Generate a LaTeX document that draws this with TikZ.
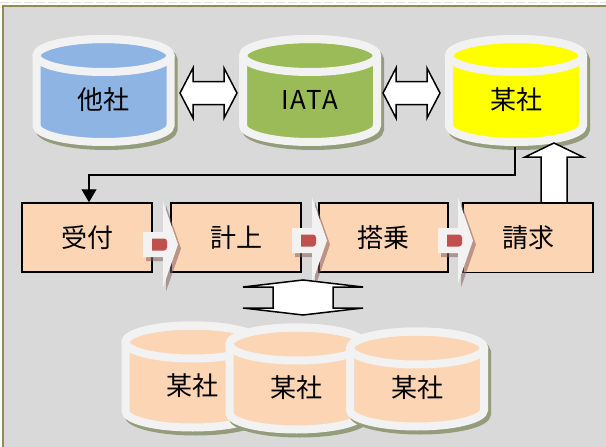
\documentclass[tikz,border=0pt]{standalone}
\usepackage{fontspec}
\setmainfont{Noto Sans CJK JP}
\usetikzlibrary{arrows.meta}
\definecolor{bg}{HTML}{D9D9D9}
\definecolor{frameol}{HTML}{948A54}
\definecolor{ring}{HTML}{F2F2F2}
\definecolor{cshadow}{RGB}{148,156,124}
\definecolor{cblue}{HTML}{8DB4E2}
\definecolor{cgreen}{HTML}{9BBB59}
\definecolor{cyellow}{HTML}{FFFF00}
\definecolor{peach}{HTML}{FCD5B5}
\definecolor{mred}{HTML}{C0504D}
\definecolor{chshadow}{RGB}{135,95,95}
\tikzset{
  lbl/.style={font=\fontsize{26}{29}\selectfont, inner sep=0pt},
  procbox/.style={draw=black, line width=1.5pt, fill=peach, minimum width=130pt, minimum height=69pt, inner sep=0pt, font=\fontsize{26}{29}\selectfont},
  blockarrow/.style={draw=black, fill=white, line width=1.5pt, line join=miter},
  conn/.style={draw=black, line width=1.2pt, -{Triangle[width=15pt,length=13pt]}},
}
% name, cx, yt, yb, fill colour, text
\newcommand\dbcyl[6]{%
  \fill[cshadow, draw=cshadow, line width=8pt, shift={(3,4)}]
    ({#2-67},#3) -- ({#2-67},#4) arc[start angle=180,end angle=0,x radius=67,y radius=16.5]
    -- ({#2+67},#3) arc[start angle=0,end angle=-180,x radius=67,y radius=16.5] -- cycle;
  \filldraw[fill=#5, draw=ring, line width=8pt]
    ({#2-67},#3) -- ({#2-67},#4) arc[start angle=180,end angle=0,x radius=67,y radius=16.5]
    -- ({#2+67},#3) arc[start angle=0,end angle=-180,x radius=67,y radius=16.5] -- cycle;
  \draw[ring, line width=8pt] (#2,#3) ellipse[x radius=67, y radius=16.5];
  \node[lbl] (#1) at (#2,{(#3+#4)/2+9}) {#6};
}
% x0, centre y
\newcommand\chev[2]{%
  \fill[chshadow, opacity=.55, shift={(3,4)}]
    (#1,{#2-12.5}) -- ({#1+20},{#2-12.5}) -- ({#1+20},{#2-43}) -- ({#1+35},#2)
    -- ({#1+20},{#2+43}) -- ({#1+20},{#2+12.5}) -- (#1,{#2+12.5}) -- cycle;
  \fill[ring]
    (#1,{#2-12.5}) -- ({#1+20},{#2-12.5}) -- ({#1+20},{#2-43}) -- ({#1+35},#2)
    -- ({#1+20},{#2+43}) -- ({#1+20},{#2+12.5}) -- (#1,{#2+12.5}) -- cycle;
  \fill[mred] ({#1+9},{#2-6}) [rounded corners=3pt] -- ({#1+24},{#2-6}) -- ({#1+24},{#2+6})
    [sharp corners] -- ({#1+9},{#2+6}) -- cycle;
}
\begin{document}
\begin{tikzpicture}[x=1pt,y=-1pt]
\useasboundingbox (0,0) rectangle (606,447);
% background
\fill[white] (0,0) rectangle (606,447);
\draw[black!12, line width=1pt, dash pattern=on 9pt off 3pt] (0,2) -- (606,2);
\fill[frameol] (1.5,4.5) rectangle (606,447);
\fill[bg] (3.5,7) rectangle (606,447);

% top cylinders
\dbcyl{other}{103.5}{55.5}{125.5}{cblue}{他社}
\dbcyl{iata}{310}{55.5}{125.5}{cgreen}{\addfontfeature{LetterSpace=6}IATA}
\dbcyl{self}{516}{55.5}{125.5}{cyellow}{某社}

% double arrows between the top cylinders
\draw[blockarrow] (180,93) -- (193,68) -- (193,81.5) -- (224,81.5) -- (224,68) -- (237,93)
  -- (224,118) -- (224,104.5) -- (193,104.5) -- (193,118) -- cycle;
\draw[blockarrow] (383,93) -- (396,68) -- (396,81.5) -- (427,81.5) -- (427,68) -- (440,93)
  -- (427,118) -- (427,104.5) -- (396,104.5) -- (396,118) -- cycle;

% process boxes
\node[procbox] (uke) at (87,237.5) {受付};
\node[procbox] (kei) at (236,237.5) {計上};
\node[procbox, minimum width=129pt] (tou) at (383.5,237.5) {搭乗};
\node[procbox] (sei) at (528,238) {請求};

% connector from 某社 to 受付
\coordinate (selfbot) at (515,147);
\draw[conn] (selfbot) -- (515,175) -| ([xshift=2pt]uke.north);

% up arrow from 請求 to 某社
\draw[blockarrow] ([xshift=39pt]sei.north) -- (567,157) -- (583,157) -- (554,143) -- (525,157)
  -- (541,157) -- ([xshift=13pt]sei.north);
\draw[black, line width=1.5pt] (sei.north west) -- (sei.north east);

% chevrons between the boxes
\chev{143}{244.5}
\chev{292}{240.5}
\chev{438}{240.5}

% up-down arrow
\draw[blockarrow] (303,280) -- (363,287) -- (333,287) -- (333,308) -- (363,308) -- (303,315)
  -- (243,308) -- (273,308) -- (273,287) -- (243,287) -- cycle;

% bottom cylinders
\dbcyl{b1}{192.5}{342}{411}{peach}{某社}
\dbcyl{b2}{296.5}{344}{413}{peach}{某社}
\dbcyl{b3}{417}{348}{410}{peach}{某社}
\end{tikzpicture}
\end{document}
